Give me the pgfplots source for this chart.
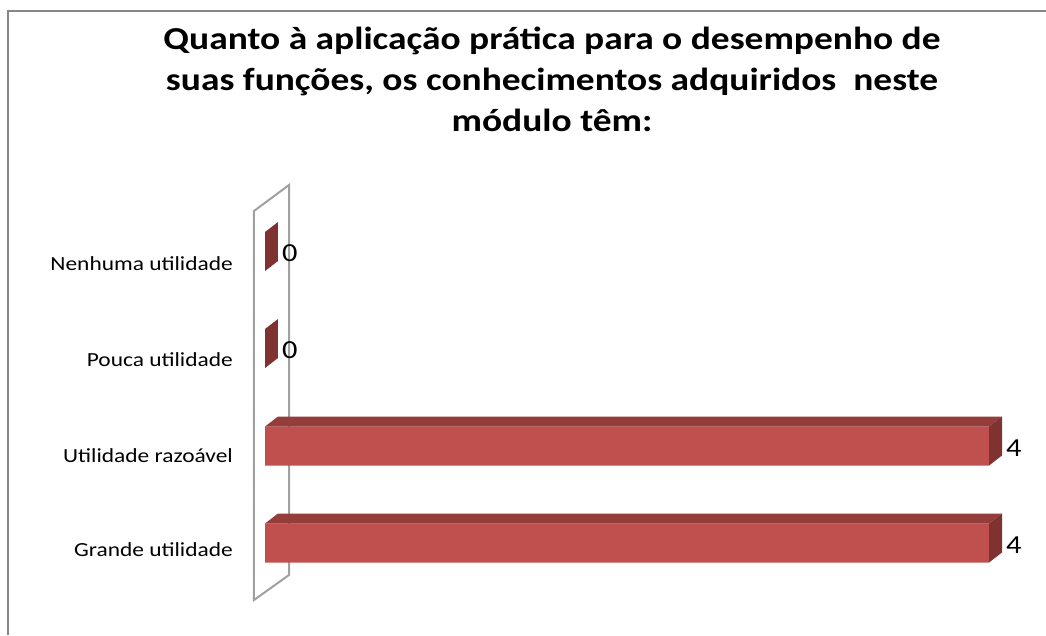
\documentclass[border=0pt]{standalone}
\usepackage{pgfplots}
\pgfplotsset{compat=1.18}
\usepackage{fontspec}
\setmainfont{Carlito}
\definecolor{front}{HTML}{C0504D}
\definecolor{topf}{HTML}{953D3B}
\definecolor{sidef}{HTML}{7E3331}
\definecolor{wallc}{HTML}{A0A0A0}
\definecolor{framec}{HTML}{868686}
\newcommand\sx[1]{\scalebox{1.17}[1]{#1}}
\begin{document}
\begin{tikzpicture}
\path[use as bounding box] (0,0) rectangle (1046pt,635pt);
\draw[framec, line width=2.5pt] (8pt,0) -- (8pt,624pt) -- (1046pt,624pt);
\node[inner sep=0pt] at (552pt,553pt)
  {\sx{\fontsize{32}{41}\selectfont\bfseries\begin{tabular}{@{}c@{}}Quanto à aplicação prática para o desempenho de\\suas funções, os conhecimentos adquiridos\ \ neste\\módulo têm:\end{tabular}}};
\begin{axis}[at={(265pt,35pt)}, anchor=south west, scale only axis,
  width=724pt, height=415pt, xmin=0, xmax=4, ymin=185, ymax=600,
  y dir=reverse, clip=false, axis line style={draw=none},
  xtick=\empty, ytick={264,360,456,550},
  yticklabels={{\sx{Nenhuma utilidade}}, {\sx{Pouca utilidade}}, {\sx{Utilidade razoável}}, {\sx{Grande utilidade}}},
  major tick length=0pt,
  yticklabel style={font=\fontsize{20}{24}\selectfont, anchor=east, inner sep=0pt, xshift=-32pt},
  ]
\draw[wallc, line width=2pt] (axis cs:-0.0608,211) -- (axis cs:0.1326,185) -- (axis cs:0.1326,575) -- (axis cs:-0.0608,600) -- cycle;
\addplot[xbar, bar width=39, fill=front, draw=none,
  nodes near coords={\sx{\pgfmathprintnumber[assume math mode=true]{\pgfplotspointmeta}}},
  every node near coord/.append style={anchor=west, inner sep=0pt, xshift=17pt, yshift=-2pt, font=\fontsize{26}{30}\selectfont, text=black}]
  coordinates {(0,251.5) (0,348.5) (4,446) (4,543)};
% top faces
\addplot[fill=topf, draw=none, mark=none] coordinates {(0,426.5) (4,426.5) (4.0718,416.5) (0.0718,416.5)};
\addplot[fill=topf, draw=none, mark=none] coordinates {(0,523.5) (4,523.5) (4.0718,513.5) (0.0718,513.5)};
% side faces
\addplot[fill=sidef, draw=none, mark=none] coordinates {(4,426.5) (4.0718,416.5) (4.0718,455.5) (4,465.5)};
\addplot[fill=sidef, draw=none, mark=none] coordinates {(4,523.5) (4.0718,513.5) (4.0718,552.5) (4,562.5)};
\addplot[fill=sidef, draw=none, mark=none] coordinates {(0,232) (0.0718,222) (0.0718,261) (0,271)};
\addplot[fill=sidef, draw=none, mark=none] coordinates {(0,329) (0.0718,319) (0.0718,358) (0,368)};
\end{axis}
\end{tikzpicture}
\end{document}
